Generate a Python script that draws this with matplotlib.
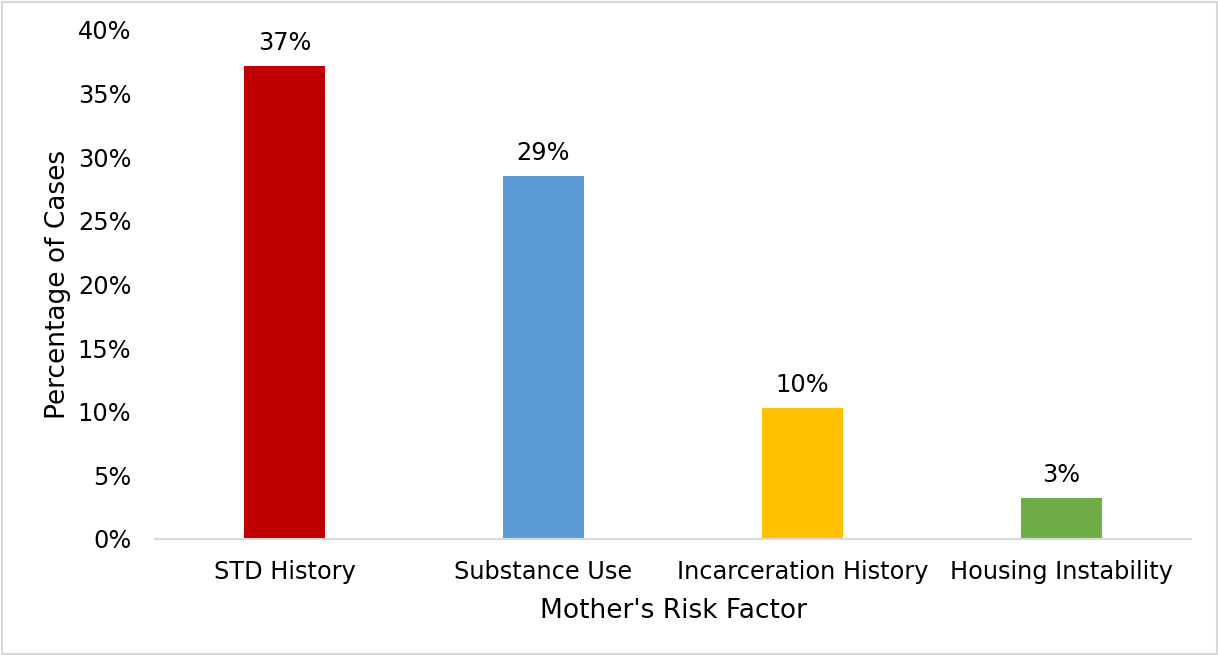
import matplotlib
matplotlib.use("Agg")
import matplotlib.pyplot as plt
from matplotlib.patches import Rectangle

categories = ["STD History", "Substance Use", "Incarceration History", "Housing Instability"]
values = [37.2, 28.5, 10.3, 3.2]
labels = ["37%", "29%", "10%", "3%"]
colors = ["#C00000", "#5B9BD5", "#FFC000", "#70AD47"]
yticks = [0, 5, 10, 15, 20, 25, 30, 35, 40]

plt.rcParams['font.family'] = ['DejaVu Sans']
fig = plt.figure(figsize=(12.18, 6.55), dpi=100)
W, H = 1218, 655
ax = fig.add_axes([155 / W, 1 - 539 / H, (1191 - 155) / W, (539 - 30) / H])

x = list(range(len(categories)))
ax.bar(x, values, width=0.315, color=colors)
for xi, v, lab in zip(x, values, labels):
    ax.annotate(lab, (xi, v), xytext=(0, 8), textcoords="offset points",
                ha="center", va="bottom", fontsize=17.3, color="#000000")

ax.set_xlim(-0.5, len(categories) - 0.5)
ax.set_ylim(0, 40)
ax.set_yticks(yticks)
ax.set_yticklabels([f"{t}%" for t in yticks], fontsize=17.3)
ax.set_xticks(x)
ax.set_xticklabels(categories, fontsize=17.3)
ax.tick_params(axis="x", length=0, pad=15)
ax.tick_params(axis="y", length=0, pad=17)
for s in ["top", "right", "left"]:
    ax.spines[s].set_visible(False)
ax.spines["bottom"].set_color("#D9D9D9")
ax.spines["bottom"].set_linewidth(1.5)
ax.set_xlabel("Mother's Risk Factor", fontsize=19, labelpad=10)
ax.set_ylabel("Percentage of Cases", fontsize=19, labelpad=5)

fig.patches.append(Rectangle((1.5 / W, 1.5 / H), (W - 3) / W, (H - 3) / H,
                             transform=fig.transFigure, fill=False,
                             edgecolor="#D9D9D9", linewidth=1.5))

fig.savefig("out.png", dpi=100)
